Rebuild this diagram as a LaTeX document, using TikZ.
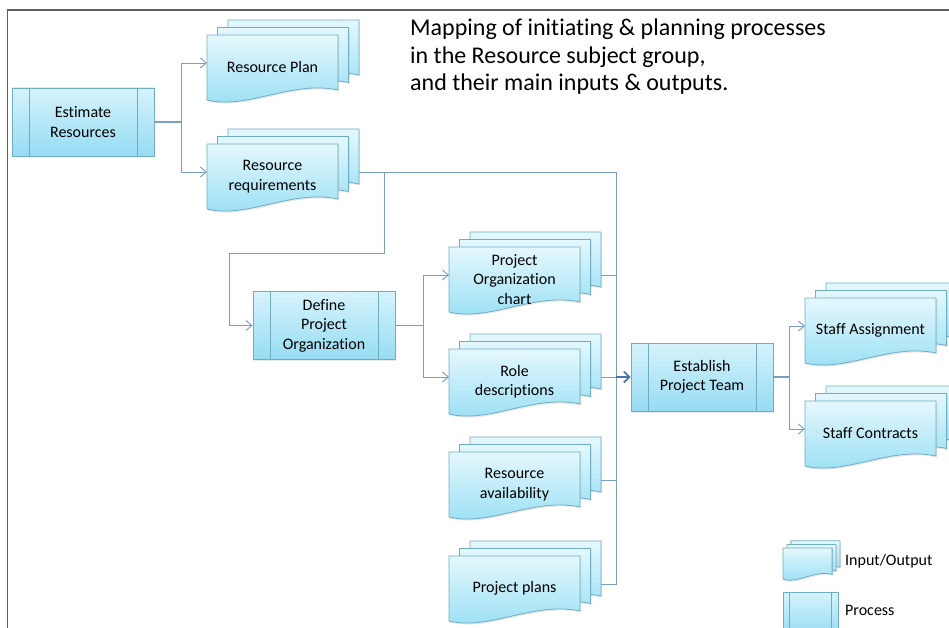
\documentclass[tikz,border=0pt]{standalone}
\usepackage{fontspec}
\setmainfont{Carlito}[Ligatures=NoCommon]
\definecolor{doctop}{RGB}{228, 248, 253}
\definecolor{docbot}{RGB}{150, 222, 244}
\definecolor{proctop}{RGB}{214, 243, 252}
\definecolor{procbot}{RGB}{150, 220, 243}
\definecolor{boxline}{RGB}{112, 172, 196}
\definecolor{linkblue}{RGB}{122, 158, 192}
\definecolor{mainblue}{RGB}{72, 116, 180}
\definecolor{framegray}{RGB}{95, 95, 95}
\usetikzlibrary{arrows.meta, calc, shadows}
\newcommand{\boxfont}{\fontsize{16}{19.5}\selectfont}

\tikzset{
  docpage/.style={draw=boxline, line width=0.8pt, top color=doctop, bottom color=docbot,
    drop shadow={shadow xshift=1.2pt, shadow yshift=-1.5pt, opacity=0.18}},
  doctext/.style={font=\boxfont, align=center, inner sep=0pt, minimum width=131pt},
  iodoc/.pic={
    \foreach \k in {2,1}
      \path[docpage, shift={(10.5*\k,-7.5*\k)}] (0,0) -- (131,0) -- (131,55) .. controls (85,45) and (40,75) .. (0,65) -- cycle;
    \path[docpage] (0,0) -- (131,0) -- (131,55) .. controls (85,45) and (40,75) .. (0,65) -- cycle;
    \node[doctext] (-t) at (65.5,32.5) {#1};
    \coordinate (-in) at (0,28);
    \coordinate (-out) at (152,28);
  },
  proc/.style={draw=boxline, line width=0.8pt, top color=proctop, bottom color=procbot,
    minimum width=142pt, minimum height=68pt, inner sep=2pt, align=center, font=\boxfont,
    drop shadow={shadow xshift=1.2pt, shadow yshift=-1.5pt, opacity=0.18},
    path picture={
      \draw[boxline, line width=0.8pt]
        ([xshift=#1]path picture bounding box.north west) -- ([xshift=#1]path picture bounding box.south west)
        ([xshift=-#1]path picture bounding box.north east) -- ([xshift=-#1]path picture bounding box.south east);
    }},
  proc/.default=17pt,
  link/.style={draw=linkblue, line width=0.9pt},
  flow/.style={link, -{Straight Barb[length=6pt,width=10pt]}},
  stub/.style={link, line width=1.7pt},
  feed/.style={draw=mainblue, line width=1.8pt, -{Straight Barb[length=5.5pt,width=11pt]}}
}

\begin{document}
\begin{tikzpicture}[x=1pt, y=-1pt]
  \useasboundingbox (0,0) rectangle (949,628);
  \clip (0,0) rectangle (949,628);
  \fill[white] (0,0) rectangle (949,628);

  % Frame
  \draw[framegray, line width=1.3pt] (7.5,640) -- (7.5,10) -- (960,10);

  % Title
  \node[font=\fontsize{24}{27.5}\selectfont, align=left, anchor=north west, inner sep=0pt] (title) at (410,19) {
    Mapping of initiating \& planning processes\\
    in the Resource subject group,\\
    and their main inputs \& outputs.
  };

  % Processes
  \node[proc] (er) at (83,122) {Estimate\\Resources};
  \node[proc] (dpo) at (324,325.5) {Define\\Project\\Organization};
  \node[proc] (ept) at (702,377) {Establish\\Project Team};

  % Inputs and outputs
  \pic (rp) at (207,35) {iodoc={Resource Plan}};
  \pic (rr) at (207,144) {iodoc={Resource\\requirements}};
  \pic (poc) at (449,247) {iodoc={Project\\Organization\\chart}};
  \pic (rd) at (449,349) {iodoc={Role\\descriptions}};
  \pic (ra) at (449,452) {iodoc={Resource\\availability}};
  \pic (pp) at (449,556) {iodoc={Project plans}};
  \pic (sa) at (805,298) {iodoc={Staff Assignment}};
  \pic (sc) at (805,401) {iodoc={Staff Contracts}};

  % Estimate Resources outputs
  \draw[stub] (er.east) -- ++(27,0) coordinate (erj);
  \draw[flow] (erj) |- (rp-in);
  \draw[flow] (erj) |- (rr-in);

  % Inputs of Establish Project Team
  \coordinate (bus) at (616,0);
  \draw[link] (rr-out) -| (bus |- pp-out) -- (pp-out);
  \draw[link] (poc-out) -- (bus |- poc-out);
  \draw[link] (rd-out) -- (bus |- rd-out);
  \draw[link] (ra-out) -- (bus |- ra-out);
  \draw[feed] (bus |- ept.west) -- (ept.west);

  % Resource requirements into Define Project Organization
  \draw[flow] ([xshift=25pt]rr-out) -- ++(0,81) -| ([xshift=-23pt]dpo.west) -- (dpo.west);

  % Define Project Organization outputs
  \draw[stub] (dpo.east) -- ++(28,0) coordinate (dpoj);
  \draw[flow] (dpoj) |- (poc-in);
  \draw[flow] (dpoj) |- (rd-in);

  % Establish Project Team outputs
  \draw[stub] (ept.east) -- ++(16,0) coordinate (eptj);
  \draw[flow] (eptj) |- (sa-in);
  \draw[flow] (eptj) |- (sc-in);

  % Legend
  \pic[xscale=0.375, yscale=0.48] (lg) at (783,548) {iodoc={}};
  \node[anchor=west, font=\boxfont, inner sep=0pt] (lgio) at (845,561) {Input/Output};
  \node[proc=6.5pt, minimum width=55pt, minimum height=44pt] (lgproc) at (810.5,614) {};
  \node[anchor=west, font=\boxfont, inner sep=0pt] (lgproctext) at (845,610) {Process};
\end{tikzpicture}
\end{document}
